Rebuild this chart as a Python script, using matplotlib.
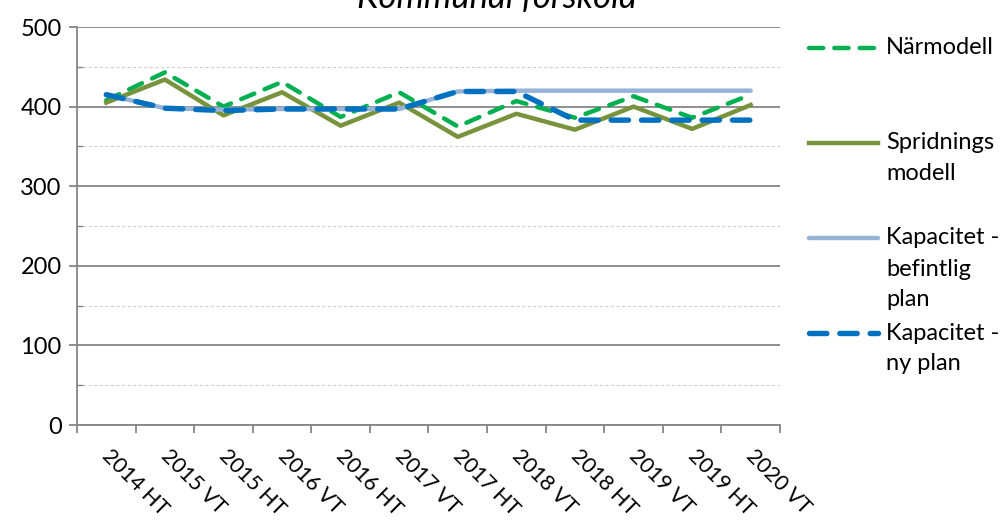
import matplotlib.pyplot as plt
from matplotlib.lines import Line2D
from matplotlib.transforms import ScaledTranslation
from matplotlib.ticker import MultipleLocator, FixedLocator

terms = ['2014 HT', '2015 VT', '2015 HT', '2016 VT', '2016 HT', '2017 VT',
         '2017 HT', '2018 VT', '2018 HT', '2019 VT', '2019 HT', '2020 VT']
narmodell = [408, 443, 400, 431, 387, 418, 375, 407, 386, 413, 386, 415]
spridning = [405, 434, 389, 418, 376, 405, 362, 391, 371, 400, 372, 402]
kap_befintlig = [415, 398, 396, 397, 397, 397, 419, 420, 420, 420, 420, 420]
kap_ny = [415, 398, 395, 397, 397, 397, 419, 419, 383, 383, 383, 383]

plt.rcParams['font.family'] = ['Lato', 'DejaVu Sans']
grey = '#868686'

fig = plt.figure(figsize=(10.03, 5.24), dpi=100)
ax = fig.add_axes([77 / 1003, 99 / 524, 703 / 1003, 398 / 524])

x = list(range(len(terms)))
ax.plot(x, narmodell, color='#00B050', lw=3.2, dashes=(3.2, 2.5),
        dash_capstyle='round', zorder=3)
ax.plot(x, spridning, color='#77933C', lw=3.2, zorder=3)
ax.plot(x, kap_befintlig, color='#95B3D7', lw=3.2, solid_capstyle='round', zorder=3)
ax.plot(x, kap_ny, color='#0070C0', lw=3.9, dashes=(3.2, 2.4),
        dash_capstyle='round', zorder=4)

ax.set_ylim(0, 500)
ax.set_xlim(-0.5, len(terms) - 0.5)

# y axis: major grid every 100, faint dashed minor every 50
ax.yaxis.set_major_locator(MultipleLocator(100))
ax.yaxis.set_minor_locator(MultipleLocator(50))
ax.grid(axis='y', which='major', color=grey, lw=1.3, zorder=1)
ax.grid(axis='y', which='minor', color='#D0D0D0', lw=0.8, ls=(0, (3, 2)), zorder=1)
ax.tick_params(axis='y', which='major', length=6, width=1.3, color=grey,
               labelsize=17, pad=5)
ax.tick_params(axis='y', which='minor', direction='in', length=4, width=1, color=grey)

# x axis: ticks between categories, labels at the categories
ax.xaxis.set_major_locator(FixedLocator([i - 0.5 for i in range(len(terms) + 1)]))
ax.xaxis.set_major_formatter(plt.NullFormatter())
ax.xaxis.set_minor_locator(FixedLocator(x))
ax.set_xticklabels(terms, minor=True, rotation=-45, ha='left', va='top',
                   rotation_mode='anchor', fontsize=15.5)
ax.tick_params(axis='x', which='major', length=6, width=1.3, color=grey)
ax.tick_params(axis='x', which='minor', length=0, pad=15)
shift = ScaledTranslation(0.06, 0, fig.dpi_scale_trans)
for lab in ax.get_xticklabels(minor=True):
    lab.set_transform(lab.get_transform() + shift)

for side in ['top', 'right']:
    ax.spines[side].set_visible(False)
for side in ['left', 'bottom']:
    ax.spines[side].set_color(grey)
    ax.spines[side].set_linewidth(1.3)

# title, partly cut off at the top like the original
fig.text(497 / 1003, 1 - 8 / 524, 'Kommunal förskola', ha='center', va='baseline',
         fontsize=25, style='italic')

# hand-placed legend on the right
W, H = 1003, 524
entries = [
    (48, ['Närmodell'], dict(color='#00B050', lw=3.2, dashes=(3.2, 2.5), dash_capstyle='round')),
    (143, ['Spridnings', 'modell'], dict(color='#77933C', lw=3.2)),
    (238, ['Kapacitet -', 'befintlig', 'plan'], dict(color='#95B3D7', lw=3.2, solid_capstyle='round')),
    (333, ['Kapacitet -', 'ny plan'], dict(color='#0070C0', lw=3.9, dashes=(3.2, 2.4), dash_capstyle='round')),
]
for ypix, lines, style in entries:
    fig.add_artist(Line2D([809 / W, 878 / W], [1 - ypix / H, 1 - ypix / H], **style))
    for k, t in enumerate(lines):
        fig.text(886 / W, 1 - (ypix + 31 * k) / H, t, ha='left', va='center', fontsize=17)

fig.savefig('out.png', dpi=100)
